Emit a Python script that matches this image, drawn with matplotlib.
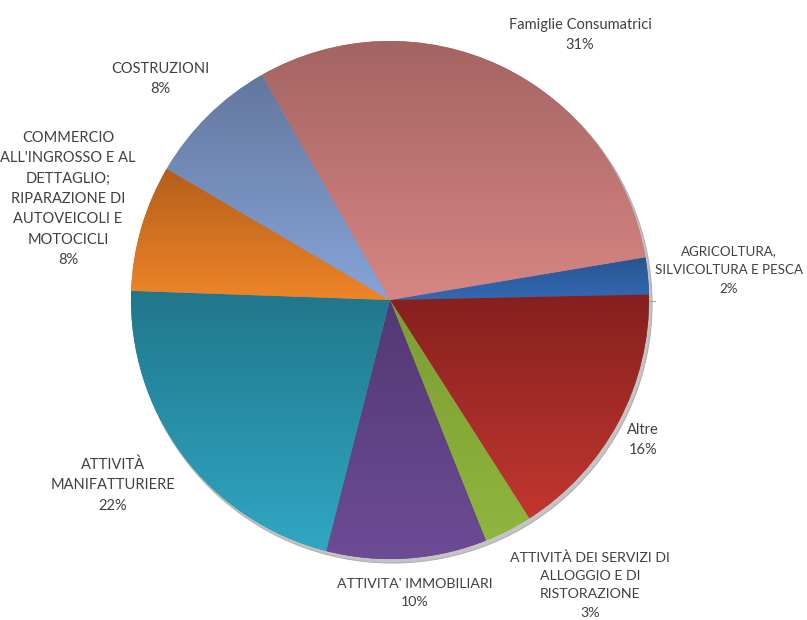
import numpy as np
import matplotlib
matplotlib.use("Agg")
import matplotlib.pyplot as plt
from matplotlib.patches import Circle
from matplotlib.colors import to_rgb

plt.rcParams['font.family'] = ['Lato', 'DejaVu Sans']

# Settori economici (quote percentuali)
categories = [
    "AGRICOLTURA,\nSILVICOLTURA E PESCA",
    "Altre",
    "ATTIVITÀ DEI SERVIZI DI\nALLOGGIO E DI\nRISTORAZIONE",
    "ATTIVITA' IMMOBILIARI",
    "ATTIVITÀ\nMANIFATTURIERE",
    "COMMERCIO\nALL'INGROSSO E AL\nDETTAGLIO;\nRIPARAZIONE DI\nAUTOVEICOLI E\nMOTOCICLI",
    "COSTRUZIONI",
    "Famiglie Consumatrici",
]
shares = [2.3, 16.3, 3.0, 10.0, 21.6, 7.9, 8.3, 30.6]

# gradient colours per slice: (top, bottom)
top_colors = ["#26558f", "#85201f", "#7c9c34", "#533873", "#21768b", "#b45e1b", "#62779d", "#a36462"]
bottom_colors = ["#3469b4", "#c2372f", "#8fb63d", "#6d4b96", "#30a7c4", "#ef8528", "#88a4d9", "#d78683"]

# label anchor positions (pixel space, y from top) and font sizes
label_pos = [(729, 270), (643, 440), (590, 585), (415, 593), (113, 485),
             (68, 199), (160, 79), (580, 35)]
label_size = [9.6, 10.5, 10.2, 10.2, 10.5, 10.5, 10.5, 10.5]

W, H = 807, 620
fig = plt.figure(figsize=(W / 100, H / 100), dpi=100)
ax = fig.add_axes([0, 0, 1, 1])

cx, cy, R = 390, H - 300, 259

# soft shadow rim to the lower right
ax.add_patch(Circle((cx + 2.5, cy - 3.5), R + 0.5, facecolor="#c4c4c4", edgecolor="#b0b0b0",
                    linewidth=0.8, zorder=1))

mid_colors = [tuple((np.array(to_rgb(a)) + np.array(to_rgb(b))) / 2)
              for a, b in zip(top_colors, bottom_colors)]
wedges, _ = ax.pie(shares, colors=mid_colors, startangle=9.5, counterclock=False,
                   center=(cx, cy), radius=R, frame=True,
                   wedgeprops=dict(linewidth=0, zorder=2))

for w, ct, cb in zip(wedges, top_colors, bottom_colors):
    t1, t2 = w.theta1, w.theta2
    th = np.radians(np.linspace(t1, t2, 200))
    xs = np.concatenate([[cx], cx + R * np.cos(th)])
    ys = np.concatenate([[cy], cy + R * np.sin(th)])
    y0, y1 = ys.min(), ys.max()
    x0, x1 = xs.min(), xs.max()
    t = np.linspace(0, 1, 256)[:, None]
    rgb = (1 - t) * np.array(to_rgb(cb)) + t * np.array(to_rgb(ct))
    im = ax.imshow(rgb[:, None, :], extent=[x0 - 1, x1 + 1, y0 - 1, y1 + 1], origin="lower",
                   aspect="auto", interpolation="bilinear", zorder=3)
    im.set_clip_path(w)

# short leader next to the small agriculture slice
ax.plot([cx + R, cx + R + 6], [cy - 0.5, cy - 0.5], color="#a6a6a6", lw=0.8, zorder=4)

ax.set_xlim(0, W)
ax.set_ylim(0, H)
ax.set_aspect("equal")
ax.axis("off")

for lab, s, (px, py), fs in zip(categories, shares, label_pos, label_size):
    ax.text(px, H - py, f"{lab}\n{s:.0f}%", ha="center", va="center",
            fontsize=fs, color="#404040", linespacing=1.58 * 10.5 / fs, zorder=5, clip_on=False)

fig.savefig("out.png", dpi=100)
